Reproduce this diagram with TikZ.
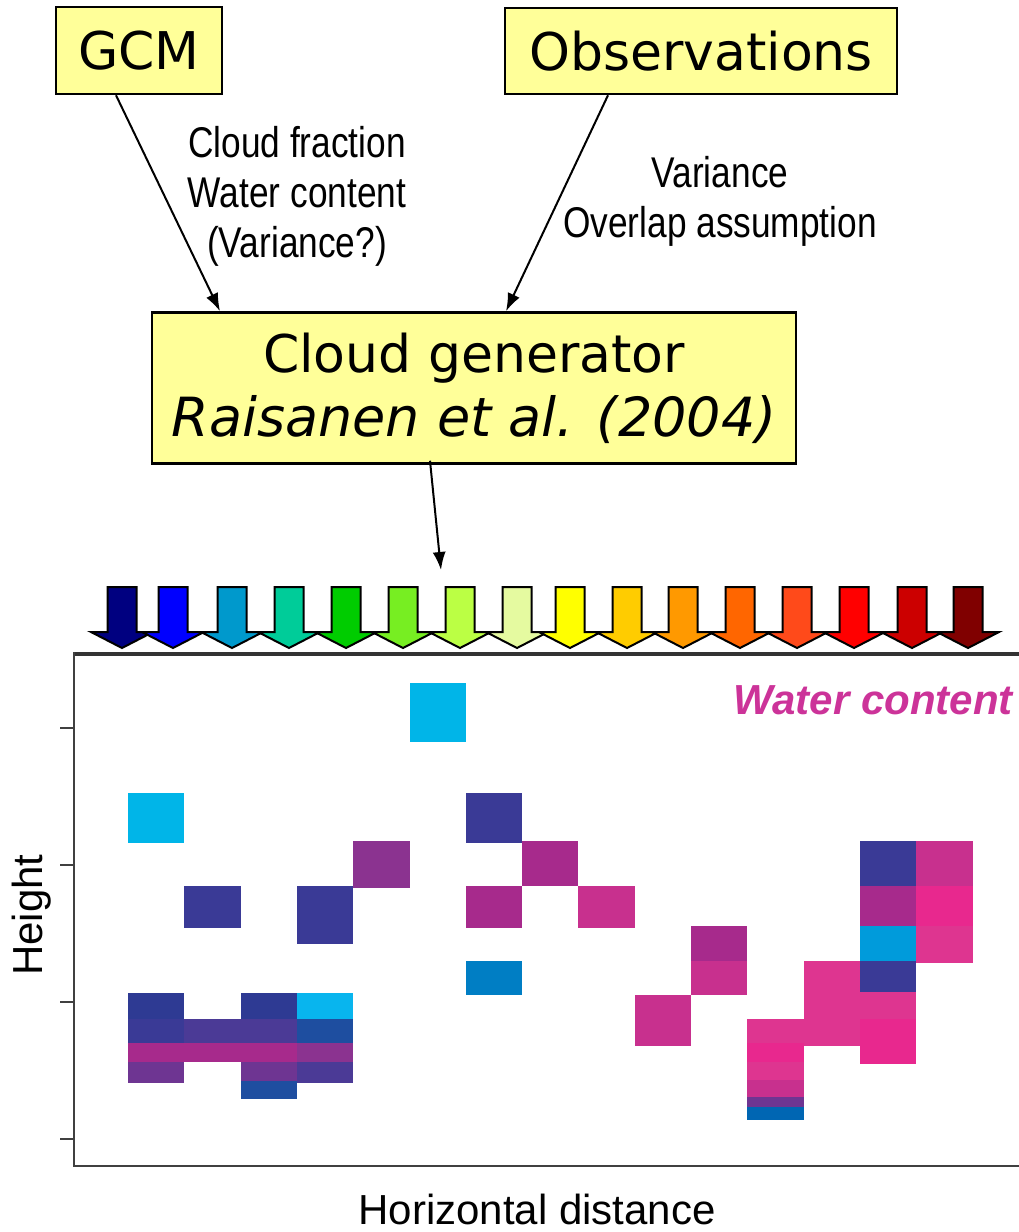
\documentclass[tikz,border=0pt]{standalone}
\usepackage{fontspec}
\setmainfont{DejaVu Sans}
\newfontfamily\arialfont{Liberation Sans}
\newfontfamily\narrowfont[FakeStretch=0.82]{Liberation Sans}
\usetikzlibrary{arrows.meta,calc}

% box fill and cell palette
\definecolor{boxyellow}{HTML}{FFFF99}
\definecolor{wcmag}{HTML}{CC3399}
\definecolor{dkblue}{HTML}{3A3A96}
\definecolor{dkblueb}{HTML}{2E3A93}
\definecolor{blpurp}{HTML}{4B3A96}
\definecolor{cyanc}{HTML}{00B5E8}
\definecolor{cyanb}{HTML}{08B5EE}
\definecolor{midcyan}{HTML}{009BDB}
\definecolor{medblue}{HTML}{007EC4}
\definecolor{deepblue}{HTML}{0066B3}
\definecolor{royal}{HTML}{1E4EA0}
\definecolor{purp}{HTML}{8B3390}
\definecolor{violet}{HTML}{6E3592}
\definecolor{magc}{HTML}{A72A8C}
\definecolor{pinkc}{HTML}{C8308E}
\definecolor{pinkd}{HTML}{DE3590}
\definecolor{hotpink}{HTML}{E8288E}

% colour scale arrows
\definecolor{s1}{HTML}{000080}
\definecolor{s2}{HTML}{0000FF}
\definecolor{s3}{HTML}{0099CC}
\definecolor{s4}{HTML}{00CC99}
\definecolor{s5}{HTML}{00CC00}
\definecolor{s6}{HTML}{77EE22}
\definecolor{s7}{HTML}{BBFF44}
\definecolor{s8}{HTML}{E5FAA0}
\definecolor{s9}{HTML}{FFFF00}
\definecolor{s10}{HTML}{FFCC00}
\definecolor{s11}{HTML}{FF9900}
\definecolor{s12}{HTML}{FF6600}
\definecolor{s13}{HTML}{FF4A1A}
\definecolor{s14}{HTML}{FF0000}
\definecolor{s15}{HTML}{CC0000}
\definecolor{s16}{HTML}{800000}

\tikzset{
  srcbox/.style={draw=black, line width=2.5pt, fill=boxyellow, inner sep=0pt,
    font=\fontsize{52}{64}\selectfont, align=center},
  conn/.style={line width=2pt, -{Latex[length=18pt,width=13pt]}},
  lbl/.style={font=\narrowfont\fontsize{43}{50}\selectfont, align=center, inner sep=0pt},
  axlbl/.style={font=\arialfont\fontsize{42}{50}\selectfont, inner sep=0pt},
  axis/.style={line width=2.2pt, draw=black!75},
}

% one grid cell: column index, top, bottom, colour
\newcommand{\gcell}[4]{\fill[#4] ({128+56.3*#1},#2) rectangle ({128+56.3*(#1+1)},#3);}
% one colour-scale arrow: tip x, colour
\newcommand{\scalearrow}[2]{%
  \filldraw[fill=#2, draw=black, line width=2pt, line join=miter]
    ({#1-14.5},587) -- ({#1+14.5},587) -- ({#1+14.5},632) -- ({#1+31},632)
    -- (#1,648) -- ({#1-31},632) -- ({#1-14.5},632) -- cycle;}

\begin{document}
\begin{tikzpicture}[x=1pt,y=-1pt]
\useasboundingbox (0,0) rectangle (1019,1232);

% source and generator boxes
\node[srcbox, minimum width=166pt, minimum height=87pt] (gcm) at (139,50.5) {GCM};
\node[srcbox, minimum width=392pt, minimum height=86pt] (obs) at (701,51) {Observations};
\node[srcbox, minimum width=644pt, minimum height=151pt] (gen) at (474,388)
  {Cloud generator\\\textit{\fontsize{54}{64}\selectfont Raisanen et al. (2004)}};

% inputs to the generator
\draw[conn] ([xshift=-23pt]gcm.south) -- ([xshift=-254pt]gen.north);
\draw[conn] ([xshift=-93pt]obs.south) -- ([xshift=32pt]gen.north);
\node[lbl] (gcmlbl) at (297,196) {Cloud fraction\\Water content\\(Variance?)};
\node[lbl] (obslbl) at (720,201) {Variance\\Overlap assumption};

% output of the generator
\coordinate (scaletop) at (441,570);
\draw[conn] ([xshift=-44pt,yshift=4pt]gen.south) -- (scaletop);

% colour scale
\scalearrow{122}{s1}
\scalearrow{173}{s2}
\scalearrow{232}{s3}
\scalearrow{289}{s4}
\scalearrow{346}{s5}
\scalearrow{403}{s6}
\scalearrow{460}{s7}
\scalearrow{517}{s8}
\scalearrow{570}{s9}
\scalearrow{627}{s10}
\scalearrow{683}{s11}
\scalearrow{740}{s12}
\scalearrow{797}{s13}
\scalearrow{854}{s14}
\scalearrow{912}{s15}
\scalearrow{968}{s16}

% cloud cells
\gcell{5}{683}{742}{cyanc}
\gcell{0}{793}{843}{cyanc}
\gcell{6}{793}{843}{dkblue}
\gcell{4}{841}{888}{purp}
\gcell{7}{841}{886}{magc}
\gcell{1}{886}{928}{dkblue}
\gcell{3}{886}{944}{dkblue}
\gcell{6}{886}{928}{magc}
\gcell{8}{886}{928}{pinkc}
\gcell{6}{961}{995}{medblue}
\gcell{10}{926}{961}{magc}
\gcell{10}{961}{995}{pinkc}
\gcell{9}{995}{1046}{pinkc}
% lower left group
\gcell{0}{993}{1019}{dkblueb}
\gcell{0}{1019}{1043}{dkblue}
\gcell{0}{1043}{1062}{magc}
\gcell{0}{1062}{1083}{violet}
\gcell{1}{1019}{1043}{blpurp}
\gcell{1}{1043}{1062}{magc}
\gcell{2}{993}{1019}{dkblueb}
\gcell{2}{1019}{1043}{blpurp}
\gcell{2}{1043}{1062}{magc}
\gcell{2}{1062}{1081}{violet}
\gcell{2}{1081}{1099}{royal}
\gcell{3}{993}{1019}{cyanb}
\gcell{3}{1019}{1043}{royal}
\gcell{3}{1043}{1062}{purp}
\gcell{3}{1062}{1083}{blpurp}
% lower right group
\gcell{11}{1019}{1043}{pinkd}
\gcell{11}{1043}{1062}{hotpink}
\gcell{11}{1062}{1080}{pinkd}
\gcell{11}{1080}{1097}{pinkc}
\gcell{11}{1097}{1107}{violet}
\gcell{11}{1107}{1120}{deepblue}
\gcell{12}{961}{1046}{pinkd}
\gcell{13}{841}{886}{dkblue}
\gcell{13}{886}{926}{magc}
\gcell{13}{926}{961}{midcyan}
\gcell{13}{961}{992}{dkblue}
\gcell{13}{992}{1019}{pinkd}
\gcell{13}{1019}{1064}{hotpink}
\gcell{14}{841}{886}{pinkc}
\gcell{14}{886}{926}{hotpink}
\gcell{14}{926}{963}{pinkd}

% plot frame and ticks
\draw[line width=4pt, draw=black!80] (74,654) -- (1019,654);
\draw[axis] (74,652) -- (74,1166) -- (1019,1166);
\foreach \ty in {728,865,1002,1139} \draw[axis] (60,\ty) -- (74,\ty);

% labels
\node[axlbl, font=\arialfont\fontsize{42}{50}\selectfont\bfseries\itshape, text=wcmag,
  anchor=east] (wc) at (1013,700) {Water content};
\node[axlbl, rotate=90] (hgt) at (32,915) {Height};
\node[axlbl] (hdist) at (537,1209) {Horizontal distance};
\end{tikzpicture}
\end{document}
